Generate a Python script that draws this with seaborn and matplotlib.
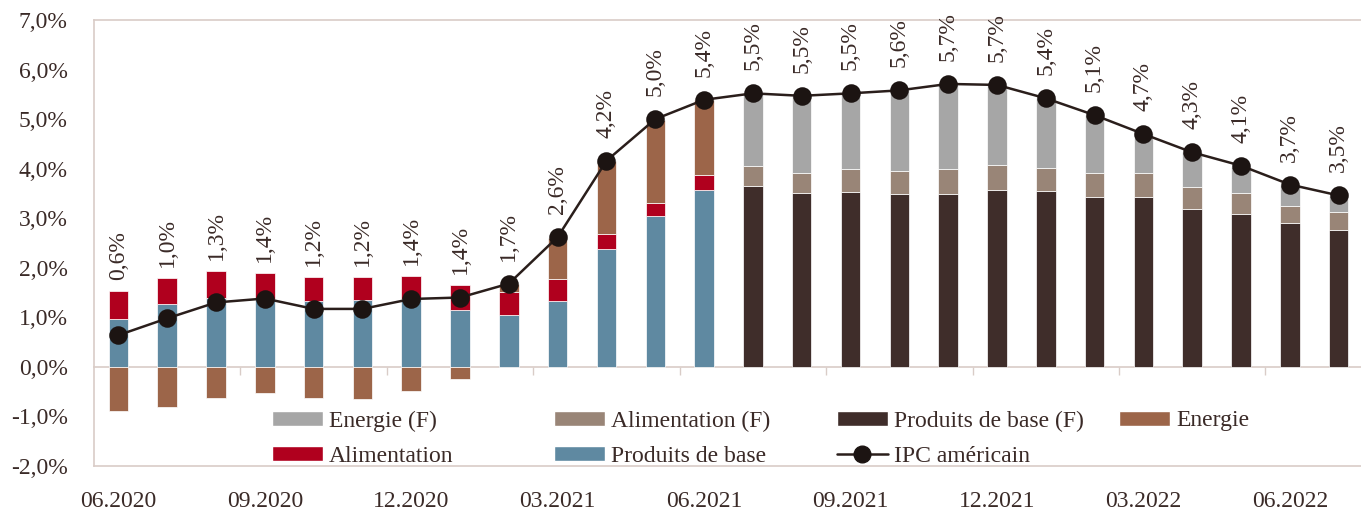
import matplotlib
matplotlib.use("Agg")
import numpy as np
import pandas as pd
import seaborn as sns
import matplotlib.pyplot as plt
from matplotlib.patches import Patch
from matplotlib.lines import Line2D

sns.set_theme(style="white")
plt.rcParams["font.family"] = ["Liberation Serif", "DejaVu Serif"]

# Months shown on the x axis (June 2020 to July 2022)
months = ["06.2020", "07.2020", "08.2020", "09.2020", "10.2020", "11.2020",
          "12.2020", "01.2021", "02.2021", "03.2021", "04.2021", "05.2021",
          "06.2021", "07.2021", "08.2021", "09.2021", "10.2021", "11.2021",
          "12.2021", "01.2022", "02.2022", "03.2022", "04.2022", "05.2022",
          "06.2022", "07.2022"]
actual_months = months[:13]
forecast_months = months[13:]

# Contributions to US inflation, realised (percentage points)
core = [0.96, 1.26, 1.40, 1.37, 1.32, 1.35, 1.37, 1.15, 1.05, 1.33, 2.38, 3.04, 3.57]
food = [0.58, 0.53, 0.54, 0.53, 0.50, 0.47, 0.46, 0.50, 0.46, 0.44, 0.31, 0.27, 0.30]
energy = [-0.90, -0.80, -0.63, -0.53, -0.63, -0.65, -0.48, -0.25, 0.16, 0.84, 1.46, 1.68, 1.51]

# Contributions, forecast (F)
core_f = [3.66, 3.51, 3.53, 3.49, 3.49, 3.57, 3.54, 3.43, 3.43, 3.19, 3.08, 2.91, 2.76]
food_f = [0.39, 0.41, 0.47, 0.47, 0.51, 0.51, 0.48, 0.49, 0.49, 0.43, 0.42, 0.34, 0.37]
energy_f = [1.47, 1.55, 1.52, 1.62, 1.72, 1.61, 1.41, 1.16, 0.79, 0.72, 0.54, 0.42, 0.32]

# Headline CPI, year on year (%)
cpi = [0.64, 0.98, 1.30, 1.38, 1.17, 1.17, 1.37, 1.40, 1.68, 2.62, 4.16, 5.00, 5.39,
       5.52, 5.47, 5.52, 5.58, 5.71, 5.69, 5.42, 5.08, 4.70, 4.33, 4.06, 3.68, 3.46]

yticks = [-2, -1, 0, 1, 2, 3, 4, 5, 6, 7]
xtick_labels = ["06.2020", "09.2020", "12.2020", "03.2021", "06.2021",
                "09.2021", "12.2021", "03.2022", "06.2022"]

C_ENERGY_F = "#A6A6A6"
C_FOOD_F = "#998577"
C_CORE_F = "#3F2D2A"
C_ENERGY = "#9C6549"
C_FOOD = "#B0001E"
C_CORE = "#5F89A1"
C_LINE = "#2A1E1B"
C_MARK = "#1C1412"
C_TEXT = "#3A2A27"
C_FRAME = "#D9CCC7"
FS = 17

fig = plt.figure(figsize=(13.61, 5.13), dpi=100)
ax = fig.add_axes([94 / 1361, 47 / 513, 1269 / 1361, 446 / 513])

bar_kw = dict(order=months, width=0.40, saturation=1, errorbar=None,
              edgecolor="white", linewidth=0.5, ax=ax)


def stacked(xs, heights, bottoms, color):
    sns.barplot(x=list(xs), y=list(heights), bottom=list(bottoms), color=color, **bar_kw)


core_a = np.array(core)
food_a = np.array(food)
energy_a = np.array(energy)
act = np.array(actual_months)

stacked(act, core_a, np.zeros(13), C_CORE)
stacked(act, food_a, core_a, C_FOOD)
pos = energy_a > 0
stacked(act[pos], energy_a[pos], (core_a + food_a)[pos], C_ENERGY)
stacked(act[~pos], energy_a[~pos], np.zeros((~pos).sum()), C_ENERGY)

core_fa = np.array(core_f)
food_fa = np.array(food_f)
energy_fa = np.array(energy_f)
stacked(forecast_months, core_fa, np.zeros(13), C_CORE_F)
stacked(forecast_months, food_fa, core_fa, C_FOOD_F)
stacked(forecast_months, energy_fa, core_fa + food_fa, C_ENERGY_F)

sns.pointplot(x=months, y=cpi, order=months, color=C_LINE, errorbar=None,
              markers="o", linestyles="-", markersize=12, linewidth=1.8,
              markerfacecolor=C_MARK, markeredgecolor=C_MARK, ax=ax)

ax.set_xlim(-0.5, 25.5)
ax.set_ylim(-2, 7)

# Rotated value labels above each point / bar
tops = np.concatenate([core_a + food_a + np.clip(energy_a, 0, None),
                       core_fa + food_fa + energy_fa])
pct_per_px = 9 / 446
for i, v in enumerate(cpi):
    y = max(v + 23 * pct_per_px, tops[i] + 11 * pct_per_px)
    ax.text(i, y, f"{v:.1f}%".replace(".", ","), rotation=90, ha="center",
            va="bottom", fontsize=FS, color=C_TEXT)

# Axes styling
ax.set_yticks(yticks)
ax.set_yticklabels([f"{t:.1f}%".replace(".", ",") for t in yticks])
ax.set_xticks([months.index(m) for m in xtick_labels])
ax.set_xticklabels(xtick_labels)
ax.set_xlabel("")
ax.set_ylabel("")
ax.tick_params(axis="both", length=0, labelsize=FS, labelcolor=C_TEXT)
ax.tick_params(axis="x", pad=18)
ax.tick_params(axis="y", pad=19)
for s in ax.spines.values():
    s.set_color(C_FRAME)
    s.set_linewidth(1.2)
ax.grid(False)

# Zero line with quarter separators
zero = ax.secondary_xaxis(2 / 9)
zero.set_xticks(np.arange(2.5, 25, 3))
zero.tick_params(direction="out", length=6, width=1, color=C_FRAME, labelbottom=False)
for name, s in zero.spines.items():
    s.set_color(C_FRAME)
    s.set_linewidth(1.2)

# Legend laid out in four evenly spaced columns
handles = {
    "Energie (F)": Patch(facecolor=C_ENERGY_F),
    "Alimentation (F)": Patch(facecolor=C_FOOD_F),
    "Produits de base (F)": Patch(facecolor=C_CORE_F),
    "Energie": Patch(facecolor=C_ENERGY),
    "Alimentation": Patch(facecolor=C_FOOD),
    "Produits de base": Patch(facecolor=C_CORE),
    "IPC américain": Line2D([], [], color=C_LINE, lw=1.8, marker="o", markersize=12,
                            markerfacecolor=C_MARK, markeredgecolor=C_MARK),
}
columns = [["Energie (F)", "Alimentation"],
           ["Alimentation (F)", "Produits de base"],
           ["Produits de base (F)", "IPC américain"],
           ["Energie"]]
col_x = [(272 - 94) / 1269, (554 - 94) / 1269, (837 - 94) / 1269, (1119 - 94) / 1269]
for k, (labels, x0) in enumerate(zip(columns, col_x)):
    leg = ax.legend([handles[l] for l in labels], labels, loc="upper left",
                    bbox_to_anchor=(x0, 0.1245), frameon=False, fontsize=FS,
                    labelcolor=C_TEXT, handlelength=2.16, handleheight=0.6,
                    handletextpad=0.25, labelspacing=0.6, borderpad=0,
                    borderaxespad=0)
    if k < len(columns) - 1:
        ax.add_artist(leg)

fig.savefig("out.png", dpi=100)
